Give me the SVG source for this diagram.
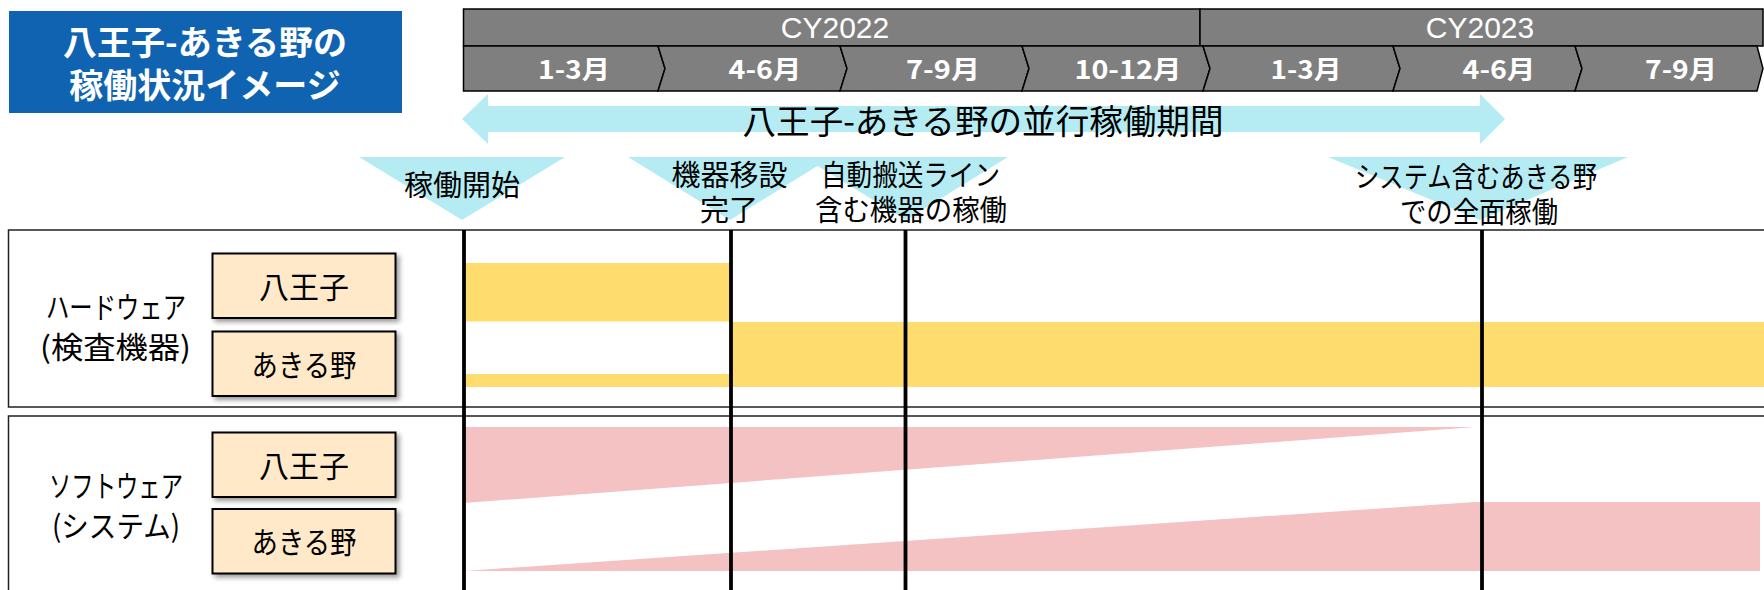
<svg xmlns="http://www.w3.org/2000/svg" width="1764" height="590" viewBox="0 0 1764 590">
  <defs>
    <filter id="shadow" x="-10%" y="-10%" width="130%" height="140%">
      <feDropShadow dx="3" dy="3" stdDeviation="2.5" flood-color="#000" flood-opacity="0.4"/>
    </filter>
    <style>
      .jp { font-family: "Noto Sans CJK JP", "Noto Sans", sans-serif; }
      .hdr { fill: #7f7f7f; stroke: #000; stroke-width: 1.5; }
      .cy { font-family: "Liberation Sans", "Noto Sans CJK JP", sans-serif; font-size: 30px; fill: #fff; text-anchor: middle; }
      .mon { font-family: "Noto Sans CJK JP", sans-serif; font-size: 26px; font-weight: bold; fill: #fff; text-anchor: middle; }
      .cyan { fill: #b5ecf3; }
      .lbl { font-family: "Noto Sans CJK JP", sans-serif; font-size: 29px; fill: #000; text-anchor: middle; }
      .side { font-family: "Noto Sans CJK JP", sans-serif; font-size: 30px; fill: #000; text-anchor: middle; }
      .tag { fill: #ffe9c9; stroke: #000; stroke-width: 2; filter: url(#shadow); }
      .tagt { font-family: "Noto Sans CJK JP", sans-serif; font-size: 30px; fill: #000; text-anchor: middle; }
      .sec { fill: #fff; stroke: #222; stroke-width: 1.5; }
      .yel { fill: #ffdc6e; }
      .pink { fill: #f4c2c2; }
      .vline { stroke: #000; stroke-width: 3.8; }
    </style>
  </defs>

  <g id="title">
    <rect x="9" y="11" width="393" height="102" fill="#1063b0"/>
    <text class="jp" x="205" y="55" font-size="34" font-weight="bold" fill="#fff" text-anchor="middle">八王子-あきる野の<tspan x="205" y="98">稼働状況イメージ</tspan></text>
  </g>

  <g id="year-header">
    <rect class="hdr" x="463.5" y="9" width="736.5" height="37"/>
    <rect class="hdr" x="1200" y="9" width="563" height="37"/>
    <text class="cy" x="835" y="38">CY2022</text>
    <text class="cy" x="1480" y="38">CY2023</text>
  </g>

  <g id="month-header">
    <polygon class="hdr" points="463.5,46 658,46 665,68.5 658,91 463.5,91"/>
    <polygon class="hdr" points="658,46 840,46 847,68.5 840,91 658,91 665,68.5"/>
    <polygon class="hdr" points="840,46 1022,46 1029,68.5 1022,91 840,91 847,68.5"/>
    <polygon class="hdr" points="1022,46 1203,46 1210,68.5 1203,91 1022,91 1029,68.5"/>
    <polygon class="hdr" points="1203,46 1393,46 1400,68.5 1393,91 1203,91 1210,68.5"/>
    <polygon class="hdr" points="1393,46 1575,46 1582,68.5 1575,91 1393,91 1400,68.5"/>
    <polygon class="hdr" points="1575,46 1757,46 1763,68.5 1757,91 1575,91 1582,68.5"/>
    <text class="mon" x="574" y="79" textLength="72" lengthAdjust="spacingAndGlyphs">1-3月</text>
    <text class="mon" x="765" y="79" textLength="73" lengthAdjust="spacingAndGlyphs">4-6月</text>
    <text class="mon" x="943" y="79" textLength="74" lengthAdjust="spacingAndGlyphs">7-9月</text>
    <text class="mon" x="1128" y="79" textLength="107" lengthAdjust="spacingAndGlyphs">10-12月</text>
    <text class="mon" x="1306" y="79" textLength="71" lengthAdjust="spacingAndGlyphs">1-3月</text>
    <text class="mon" x="1499" y="79" textLength="73" lengthAdjust="spacingAndGlyphs">4-6月</text>
    <text class="mon" x="1681" y="79" textLength="72" lengthAdjust="spacingAndGlyphs">7-9月</text>
  </g>

  <g id="parallel-period">
    <polygon class="cyan" points="462,119 488,94 488,106 1480,106 1480,94 1505,119 1480,144 1480,132 488,132 488,144"/>
    <text class="jp" x="983" y="134" font-size="34" text-anchor="middle" textLength="481" lengthAdjust="spacingAndGlyphs">八王子-あきる野の並行稼働期間</text>
  </g>

  <g id="section-hardware">
    <rect class="sec" x="8.5" y="230" width="1770" height="177"/>
  </g>
  <g id="section-software">
    <rect class="sec" x="8.5" y="416" width="1770" height="200"/>
  </g>

  <g id="bars">
    <rect class="yel" x="464" y="263" width="267" height="58.5"/>
    <rect class="yel" x="464" y="374" width="267" height="13"/>
    <rect class="yel" x="731" y="322" width="1033" height="65"/>
    <polygon class="pink" points="464,427 1475,427 464,503"/>
    <polygon class="pink" points="464,571 1475,502 1760,502 1760,571"/>
  </g>

  <g id="milestone-start">
    <polygon class="cyan" points="359,157 565,157 462,220"/>
    <text class="lbl" x="462" y="196">稼働開始</text>
  </g>
  <g id="milestone-move">
    <polygon class="cyan" points="628,157 832,157 730,220"/>
  </g>
  <g id="milestone-auto">
    <polygon class="cyan" points="803,157 1008,157 906,220"/>
  </g>
  <g id="milestone-full">
    <polygon class="cyan" points="1328,157 1628,157 1480,220"/>
  </g>
  <g id="milestone-labels">
    <text class="lbl" x="729.5" y="186">機器移設<tspan x="729" y="221">完了</tspan></text>
    <text class="lbl" x="910.5" y="186"><tspan textLength="179" lengthAdjust="spacingAndGlyphs">自動搬送ライン</tspan><tspan x="911" y="221" textLength="192" lengthAdjust="spacingAndGlyphs">含む機器の稼働</tspan></text>
    <text class="lbl" x="1476" y="187.5"><tspan textLength="242" lengthAdjust="spacingAndGlyphs">システム含むあきる野</tspan><tspan x="1479" y="223" textLength="158" lengthAdjust="spacingAndGlyphs">での全面稼働</tspan></text>
  </g>

  <g id="connectors">
    <line class="vline" x1="464" y1="230" x2="464" y2="590"/>
    <line class="vline" x1="731" y1="230" x2="731" y2="590"/>
    <line class="vline" x1="905.5" y1="230" x2="905.5" y2="590"/>
    <line class="vline" x1="1482" y1="230" x2="1482" y2="590"/>
  </g>

  <g id="label-hardware">
    <text class="side" x="116" y="318"><tspan textLength="140" lengthAdjust="spacingAndGlyphs">ハードウェア</tspan><tspan x="115.5" y="358" textLength="151" lengthAdjust="spacingAndGlyphs">(検査機器)</tspan></text>
  </g>
  <g id="label-software">
    <text class="side" x="116" y="497"><tspan textLength="134" lengthAdjust="spacingAndGlyphs">ソフトウェア</tspan><tspan x="116" y="537" textLength="128" lengthAdjust="spacingAndGlyphs">(システム)</tspan></text>
  </g>

  <g id="hw-hachioji">
    <rect class="tag" x="212.5" y="253.5" width="183" height="64.5"/>
    <text class="tagt" x="304" y="297.5">八王子</text>
  </g>
  <g id="hw-akiruno">
    <rect class="tag" x="212.5" y="331.5" width="183" height="64.5"/>
    <text class="tagt" x="304" y="376" textLength="105" lengthAdjust="spacingAndGlyphs">あきる野</text>
  </g>
  <g id="sw-hachioji">
    <rect class="tag" x="212.5" y="432.5" width="183" height="64.5"/>
    <text class="tagt" x="304" y="477">八王子</text>
  </g>
  <g id="sw-akiruno">
    <rect class="tag" x="212.5" y="509" width="183" height="64.5"/>
    <text class="tagt" x="304" y="553" textLength="105" lengthAdjust="spacingAndGlyphs">あきる野</text>
  </g>
</svg>
